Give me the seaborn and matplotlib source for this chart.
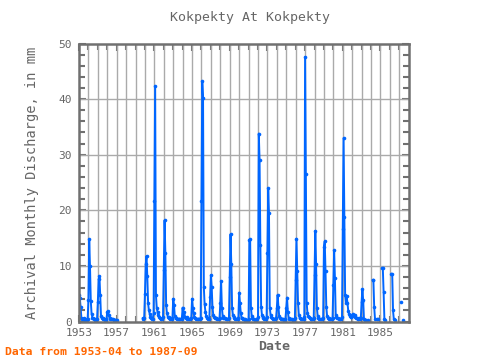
import numpy as np
import pandas as pd
import matplotlib
matplotlib.use("Agg")
import matplotlib.pyplot as plt
import seaborn as sns

nan = np.nan

# monthly discharge (mm), Jan..Dec per row
flow_1950s = [
    nan, nan, nan, 4.8, 4.3, 2.6, 0.7, 0.5, 0.5, 0.6, 0.4, 0.3,      # 1953
    0.3, 0.3, 0.4, 3.9, 14.8, 9.9, 3.7, 1.4, 0.7, 0.6, 0.5, 0.4,     # 1954
    0.3, 0.3, 0.5, 3.6, 7.6, 8.2, 4.8, 1.0, 0.6, 0.6, 0.5, 0.4,      # 1955
    0.3, 0.3, 0.4, 1.8, 1.9, 1.1, 0.6, 0.4, 0.4, 0.5, 0.4, 0.3,      # 1956
    0.3, 0.3, 0.3, 0.3, nan, nan, nan, nan, nan, nan, nan, nan,      # 1957
    nan, nan, nan, nan, nan, nan, nan, nan, nan, nan, nan, nan,      # 1958
    nan, nan, nan, nan, nan, nan, nan, nan, nan, nan, nan, nan,      # 1959
]
flow_1960s = [
    0.6, 0.5, 0.6, 5.0, 10.3, 11.8, 8.1, 3.3, 2.0, 1.4, 0.9, 0.6,    # 1960
    0.5, 0.5, 1.5, 21.6, 42.3, 4.8, 2.5, 1.7, 1.1, 0.9, 0.7, 0.5,    # 1961
    0.5, 0.5, 0.8, 9.3, 18.2, 12.4, 3.0, 1.5, 0.9, 0.8, 0.6, 0.5,    # 1962
    0.4, 0.4, 0.6, 4.1, 3.0, 1.0, 0.7, 0.6, 0.5, 0.5, 0.4, 0.4,      # 1963
    0.4, 0.4, 0.5, 2.5, 1.0, 1.8, 0.8, 0.6, 0.5, 0.8, 0.5, 0.4,      # 1964
    0.4, 0.4, 0.6, 4.1, 2.5, 1.5, 0.8, 0.6, 0.5, 0.5, 0.4, 0.4,      # 1965
    0.4, 0.4, 0.7, 21.6, 43.2, 40.2, 6.2, 3.1, 1.8, 1.0, 0.7, 0.5,   # 1966
    0.5, 0.5, 4.4, 8.3, 6.2, 2.7, 1.2, 0.8, 0.7, 0.7, 0.6, 0.5,      # 1967
    0.4, 0.4, 0.6, 3.3, 7.3, 2.5, 1.0, 0.7, 0.6, 0.6, 0.5, 0.4,      # 1968
    0.4, 0.4, 0.6, 8.0, 15.7, 10.3, 2.5, 1.2, 0.8, 0.7, 0.5, 0.4,    # 1969
]
flow_1970s = [
    0.4, 0.4, 0.6, 5.2, 3.4, 1.6, 0.7, 0.6, 0.5, 0.5, 0.4, 0.3,      # 1970
    0.2, 0.2, 0.2, 0.4, 14.7, 14.8, 2.5, 1.0, 0.6, 0.5, 0.4, 0.3,    # 1971
    0.3, 0.3, 0.5, 0.8, 33.8, 29.1, 13.8, 2.7, 1.2, 0.8, 0.6, 0.4,   # 1972
    0.4, 0.4, 0.8, 12.3, 24.0, 19.5, 2.5, 1.2, 0.8, 0.7, 0.5, 0.4,   # 1973
    0.4, 0.4, 0.6, 2.4, 4.8, 2.7, 1.0, 0.6, 0.5, 0.5, 0.4, 0.4,      # 1974
    0.3, 0.3, 0.5, 2.4, 4.3, 1.8, 0.7, 0.5, 0.5, 0.5, 0.4, 0.3,      # 1975
    0.3, 0.3, 0.6, 7.5, 14.9, 9.1, 3.3, 1.2, 0.7, 0.6, 0.5, 0.4,     # 1976
    0.4, 0.4, 0.8, 47.6, 26.6, 3.4, 1.5, 1.0, 0.8, 0.7, 0.5, 0.4,    # 1977
    0.4, 0.4, 0.6, 8.3, 16.3, 10.3, 2.5, 1.0, 0.6, 0.5, 0.4, 0.4,    # 1978
    0.4, 0.4, 0.6, 13.4, 14.4, 9.1, 2.7, 1.0, 0.7, 0.6, 0.5, 0.4,    # 1979
]
flow_1980s = [
    0.4, 0.4, 0.7, 6.5, 12.8, 7.8, 1.2, 0.8, 0.6, 0.6, 0.5, 0.4,     # 1980
    0.4, 0.4, 0.8, 16.6, 33.0, 18.8, 4.8, 3.4, 4.5, 3.3, 1.9, 1.3,   # 1981
    1.0, 0.8, 0.8, 1.2, 1.4, 1.0, 0.8, 1.2, 0.7, 0.6, 0.5, 0.5,      # 1982
    0.6, 0.5, 0.6, 3.6, 5.8, 3.8, 0.4, 0.3, 0.3, nan, nan, 0.3,      # 1983
    nan, nan, nan, nan, nan, 7.5, 7.4, 2.7, 0.5, nan, nan, 0.4,      # 1984
    0.5, nan, nan, nan, nan, 9.6, 9.6, 5.3, 0.5, 0.3, nan, nan,      # 1985
    nan, nan, nan, nan, nan, 8.6, 8.5, 2.0, 0.4, 0.3, nan, nan,      # 1986
    nan, nan, nan, nan, nan, 3.6, nan, nan, 0.3, nan, nan, nan,      # 1987
]

first_year = 1953
x_ticks = [1953, 1957, 1961, 1965, 1969, 1973, 1977, 1981, 1985]
y_ticks = [0, 10, 20, 30, 40, 50]

values = np.array(flow_1950s + flow_1960s + flow_1970s + flow_1980s)
months = np.arange(len(values))
df = pd.DataFrame({
    "date": first_year + months / 12.0,
    "flow": values,
})
# split into runs so gaps stay gaps
df["seg"] = df["flow"].isna().cumsum()
df = df.dropna()

grey = "#666666"
sns.set_theme(style="ticks")
plt.rcParams["font.family"] = ["DejaVu Sans Mono", "DejaVu Sans"]

fig = plt.figure(figsize=(4.8, 3.6), dpi=100)
ax = fig.add_axes([0.1646, 0.1069, 0.6865, 0.7722])

sns.lineplot(data=df, x="date", y="flow", units="seg", estimator=None,
             color="#0066ff", linewidth=1.4, marker="o", markersize=2.6,
             markeredgewidth=0, ax=ax, legend=False, zorder=3)

# axis starts at first record (April), ticks sit on the same phase
shift = 0.25
year_pos = [t + shift for t in range(1953, 1988)]
ax.set_xlim(first_year + shift, 1988.23)
ax.set_ylim(0, 50)
ax.set_xticks([t + shift for t in x_ticks])
ax.set_xticklabels([str(t) for t in x_ticks])
ax.set_xticks(year_pos, minor=True)
ax.set_yticks(y_ticks)
ax.set_yticks(np.arange(0, 51, 2), minor=True)

ax.tick_params(which="both", direction="in", length=4, width=1.5,
               color="#707070", bottom=True, left=True, top=True, right=True,
               labelsize=8, labelcolor=grey)
ax.tick_params(which="major", length=5, pad=5)

# grid drawn as plain lines: one per year, one per 10 mm
for xp in year_pos[1:]:
    ax.axvline(xp, color="#aaaaaa", linewidth=1, zorder=1)
for yp in y_ticks[1:-1]:
    ax.axhline(yp, color="#aaaaaa", linewidth=1, zorder=1)

for sp in ax.spines.values():
    sp.set_color("#707070")
    sp.set_linewidth(1.8)
    sp.set_zorder(4)

ax.set_xlabel("")
ax.set_ylabel("Archival Monthly Discharge, in mm", fontsize=9.8,
              color=grey, labelpad=14)

fig.text(249.5 / 480, 1 - 17 / 360, "Kokpekty At Kokpekty", ha="center",
         va="center", fontsize=9.5, color=grey)
fig.text(274 / 480, 1 - 347 / 360, "Date", ha="center", va="center",
         fontsize=9.5, color=grey, fontweight="bold")
fig.text(5 / 480, 1 - 352 / 360, "Data from 1953-04 to 1987-09", ha="left",
         va="center", fontsize=8.2, color="#ff6600", fontweight="bold")

fig.savefig("out.png", dpi=100)
